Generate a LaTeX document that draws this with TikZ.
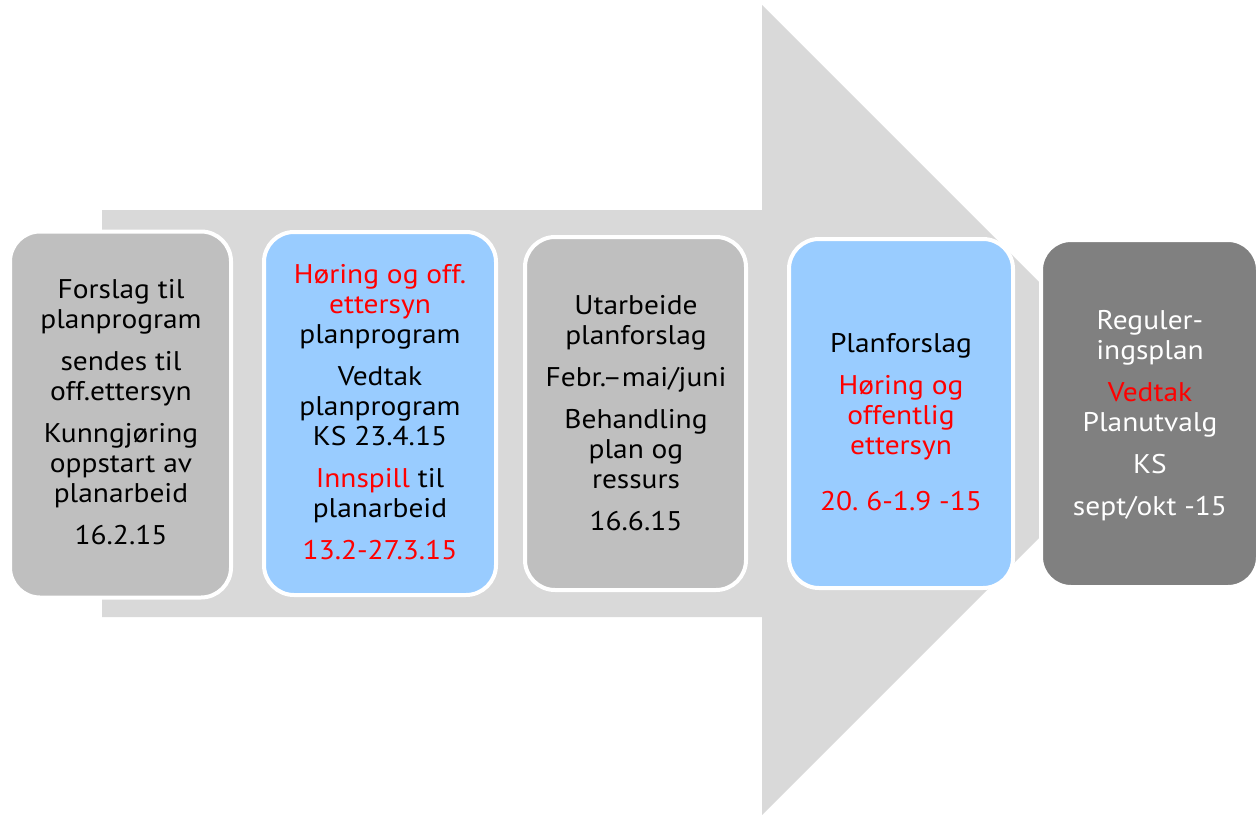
\documentclass[tikz,border=0pt]{standalone}
\usepackage{fontspec}
\setmainfont[FakeStretch=1.09]{PT Sans}
\frenchspacing
\definecolor{arrowgray}{HTML}{D9D9D9}
\definecolor{boxgray}{HTML}{BFBFBF}
\definecolor{boxblue}{HTML}{99CCFF}
\definecolor{boxdark}{HTML}{808080}
\definecolor{txtred}{HTML}{FF0000}
\tikzset{
  stagebox/.style={draw=white, line width=4pt, rounded corners=30pt, inner sep=0pt, rectangle},
  stagetext/.style={align=center, inner sep=0pt, font=\fontsize{27}{30}\selectfont\frenchspacing, text=black},
}
\newcommand{\rd}[1]{\textcolor{txtred}{#1}}
\begin{document}
\begin{tikzpicture}[x=1pt,y=-1pt]
\useasboundingbox (0,0) rectangle (1258,814);
% big arrow
\fill[arrowgray] (102,210) -- (762,210) -- (762,5) -- (1167,410) -- (762,815) -- (762,617) -- (102,617) -- cycle;
% boxes
\node[stagebox, fill=boxgray, minimum width=221pt, minimum height=366pt] (b1) at (120.5,414.5) {};
\node[stagebox, fill=boxblue, minimum width=232pt, minimum height=363pt] (b2) at (380,413.5) {};
\node[stagebox, fill=boxgray, minimum width=221pt, minimum height=353pt] (b3) at (635.5,413.5) {};
\node[stagebox, fill=boxblue, minimum width=224pt, minimum height=349pt] (b4) at (901,413.5) {};
\node[stagebox, fill=boxdark, minimum width=217pt, minimum height=347pt] (b5) at (1149.5,413.5) {};
% texts
\node[stagetext] (t1) at (121,412) {Forslag til\\planprogram\\[12pt]sendes til\\off.ettersyn\\[12pt]Kunngjøring\\oppstart av\\planarbeid\\[12pt]16.2.15};
\node[stagetext] (t2) at (380,412) {\rd{Høring og off.}\\\rd{ettersyn}\\planprogram\\[12pt]Vedtak\\planprogram\\KS 23.4.15\\[12pt]\rd{Innspill} til\\planarbeid\\[12pt]\rd{13.2-27.3.15}};
\node[stagetext] (t3) at (636,413.5) {Utarbeide\\planforslag\\[12pt]Febr.–mai/juni\\[12pt]Behandling\\plan og\\ressurs\\[12pt]16.6.15};
\node[stagetext] (t4) at (901,422) {Planforslag\\[12pt]\rd{Høring og}\\\rd{offentlig}\\\rd{ettersyn}\\[26pt]\rd{20. 6-1.9 -15}};
\node[stagetext, text=white] (t5) at (1150,415.5) {Reguler-\\ingsplan\\[12pt]\rd{Vedtak}\\Planutvalg\\[12pt]KS\\[12pt]sept/okt -15};
\end{tikzpicture}
\end{document}
